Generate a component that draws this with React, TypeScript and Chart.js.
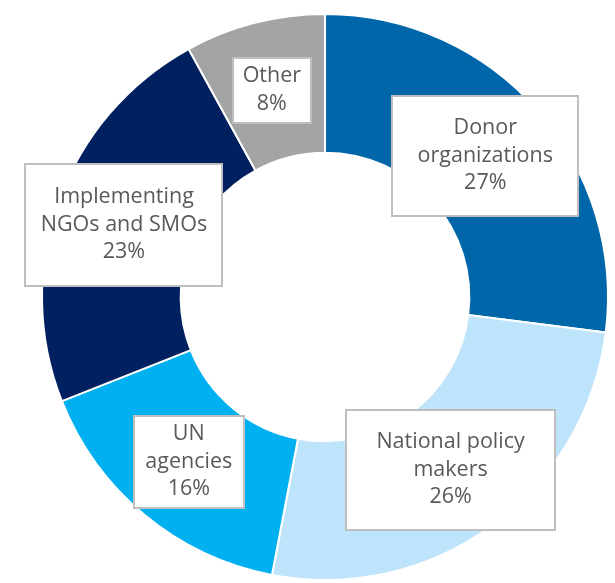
import React, { useEffect, useRef } from "react";
import { Chart, registerables } from "chart.js";

Chart.register(...registerables);

const categories = ["Donor organizations", "National policy makers", "UN agencies", "Implementing NGOs and SMOs", "Other"];
const labelLines = [["Donor", "organizations"], ["National policy", "makers"], ["UN", "agencies"], ["Implementing", "NGOs and SMOs"], ["Other"]];
const values = [27, 26, 16, 23, 8];
const colors = ["#0066AA", "#BDE4FB", "#00B0F0", "#002060", "#A3A4A6"];
// label box sizes (style)
const boxSizes = [[186, 120], [209, 120], [110, 92], [197, 122], [78, 65]];

const labelPlugin = {
  id: "boxLabels",
  afterDatasetsDraw(chart: any) {
    const ctx = chart.ctx;
    const meta = chart.getDatasetMeta(0);
    ctx.save();
    meta.data.forEach((arc: any, i: number) => {
      const p = arc.tooltipPosition();
      const [w, h] = boxSizes[i];
      const x0 = Math.round(p.x - w / 2);
      const y0 = Math.round(p.y - h / 2);
      ctx.fillStyle = "#FFFFFF";
      ctx.fillRect(x0, y0, w, h);
      ctx.strokeStyle = "#BFBFBF";
      ctx.lineWidth = 2;
      ctx.strokeRect(x0, y0, w, h);
      const lines = [...labelLines[i], values[i] + "%"];
      const lh = 27.5;
      ctx.fillStyle = "#595959";
      ctx.font = "21.5px 'Open Sans'";
      ctx.textAlign = "center";
      ctx.textBaseline = "middle";
      const startY = p.y - ((lines.length - 1) * lh) / 2;
      lines.forEach((t, k) => ctx.fillText(t, p.x, startY + k * lh));
    });
    ctx.restore();
  },
};

export default function App() {
  const ref = useRef<HTMLCanvasElement>(null);
  useEffect(() => {
    const chart = new Chart(ref.current!, {
      type: "doughnut",
      data: {
        labels: categories,
        datasets: [
          {
            data: values,
            backgroundColor: colors,
            borderColor: "#FFFFFF",
            borderWidth: 2,
          },
        ],
      },
      options: {
        responsive: false,
        animation: false,
        cutout: "51%",
        layout: { padding: { top: 13, bottom: 2, left: 41, right: 6 } },
        plugins: { legend: { display: false }, tooltip: { enabled: false } },
      },
      plugins: [labelPlugin],
    });
    return () => chart.destroy();
  }, []);
  return (
    <div style={{ position: "absolute", left: 0, top: 0, width: 615, height: 583, background: "#fff" }}>
      <canvas ref={ref} width={615} height={583} />
    </div>
  );
}
